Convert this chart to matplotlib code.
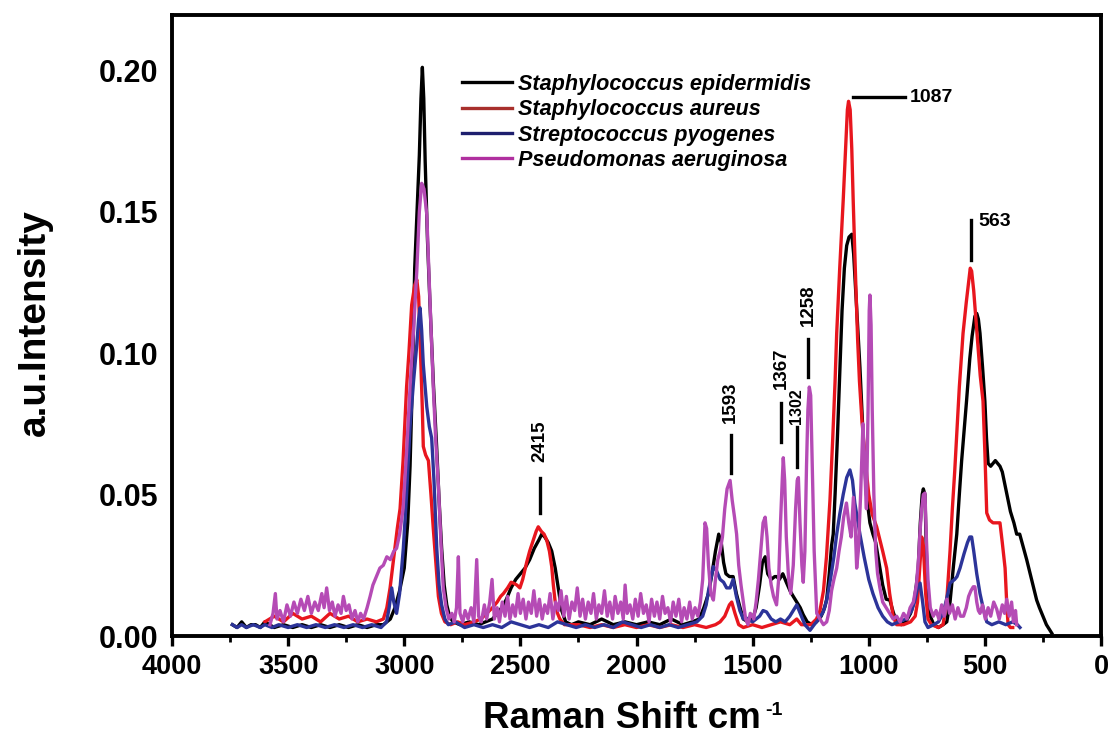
import matplotlib
matplotlib.use("Agg")
import matplotlib.pyplot as plt
from matplotlib.ticker import MultipleLocator

plt.rcParams['font.family'] = ['Liberation Sans', 'DejaVu Sans']

# ---------------- data ----------------
epi_x = [3740, 3720, 3700, 3680, 3660, 3640, 3620, 3600, 3560, 3520, 3480, 3440, 3400, 3360, 3320, 3280,
         3240, 3200, 3160, 3120, 3090, 3060, 3040, 3020, 3000, 2985, 2975, 2965, 2955, 2945, 2935, 2928,
         2922, 2916, 2910, 2900, 2889, 2875, 2860, 2850, 2839, 2828, 2817, 2805, 2790, 2760, 2720, 2680,
         2650, 2620, 2600, 2580, 2560, 2540, 2520, 2500, 2480, 2460, 2440, 2420, 2408, 2395, 2380, 2365,
         2350, 2337, 2322, 2305, 2280, 2250, 2200, 2150, 2100, 2050, 2000, 1950, 1900, 1850, 1800, 1760,
         1730, 1710, 1690, 1675, 1660, 1646, 1635, 1625, 1615, 1600, 1584, 1570, 1554, 1540, 1520, 1500,
         1485, 1470, 1458, 1446, 1435, 1420, 1405, 1396, 1385, 1370, 1355, 1339, 1325, 1310, 1295, 1282,
         1265, 1245, 1225, 1205, 1190, 1181, 1170, 1160, 1153, 1145, 1135, 1124, 1115, 1105, 1095, 1085,
         1073, 1065, 1055, 1047, 1038, 1025, 1010, 995, 982, 970, 960, 952, 940, 925, 909, 895,
         880, 860, 840, 820, 805, 795, 787, 778, 770, 765, 758, 752, 745, 735, 720, 700,
         680, 664, 650, 635, 621, 610, 600, 590, 579, 565, 555, 543, 535, 528, 521, 510,
         500, 493, 486, 475, 465, 455, 445, 435, 425, 415, 400, 390, 375, 363, 350, 340,
         330, 320, 305, 290, 277, 265, 250, 235, 220, 212]
epi_y = [.004, .003, .005, .003, .004, .004, .003, .005, .003, .004, .003, .004, .003, .004, .003, .004,
         .003, .004, .003, .004, .004, .006, .010, .016, .024, .040, .060, .090, .130, .150, .170, .190,
         .201, .190, .168, .140, .117, .090, .066, .048, .031, .018, .011, .007, .005, .004, .005, .004,
         .005, .006, .008, .010, .013, .017, .020, .022, .024, .027, .031, .034, .036, .035, .033, .030,
         .024, .017, .009, .005, .004, .005, .004, .006, .004, .005, .004, .005, .004, .006, .004, .005,
         .006, .010, .015, .022, .030, .036, .033, .026, .022, .021, .021, .015, .010, .006, .005, .006,
         .010, .018, .026, .028, .022, .020, .021, .021, .020, .022, .019, .016, .014, .012, .010, .0075,
         .005, .004, .005, .007, .010, .013, .022, .032, .036, .050, .070, .095, .115, .130, .138, .141,
         .142, .135, .120, .108, .095, .072, .050, .040, .036, .033, .028, .024, .018, .013, .0127, .0085,
         .005, .004, .005, .008, .012, .018, .024, .040, .050, .052, .050, .030, .013, .007, .004, .003,
         .004, .005, .012, .025, .036, .050, .062, .072, .083, .098, .106, .113, .114, .112, .107, .095,
         .083, .070, .061, .060, .061, .062, .061, .060, .058, .054, .048, .044, .040, .036, .036, .033,
         .030, .027, .022, .017, .0127, .010, .007, .004, .002, .001]

aur_x = [3600, 3560, 3520, 3480, 3440, 3400, 3360, 3320, 3280, 3240, 3200, 3160, 3120, 3090, 3075, 3061,
         3045, 3030, 3018, 3005, 2990, 2980, 2968, 2955, 2946, 2938, 2930, 2922, 2918, 2908, 2896, 2885,
         2875, 2863, 2853, 2840, 2825, 2800, 2770, 2740, 2700, 2670, 2645, 2620, 2600, 2585, 2573, 2555,
         2540, 2530, 2515, 2502, 2490, 2473, 2460, 2444, 2432, 2423, 2410, 2398, 2387, 2375, 2365, 2358,
         2351, 2340, 2330, 2310, 2250, 2200, 2150, 2100, 2050, 2000, 1950, 1900, 1850, 1800, 1750, 1700,
         1660, 1640, 1620, 1600, 1590, 1576, 1560, 1540, 1500, 1460, 1420, 1380, 1340, 1310, 1290, 1250,
         1225, 1210, 1195, 1182, 1167, 1155, 1145, 1138, 1125, 1110, 1100, 1092, 1087, 1080, 1073, 1067,
         1058, 1048, 1040, 1030, 1015, 1000, 985, 966, 955, 940, 923, 910, 895, 880, 850, 820,
         800, 790, 780, 772, 765, 755, 745, 730, 700, 680, 664, 650, 640, 630, 621, 610,
         594, 580, 570, 563, 557, 548, 535, 520, 508, 500, 492, 480, 465, 450, 435, 425,
         413, 405, 400, 390, 380]
aur_y = [.005, .007, .005, .008, .006, .007, .005, .008, .006, .007, .005, .006, .005, .006, .010, .017,
         .028, .038, .045, .062, .088, .100, .117, .124, .126, .120, .100, .080, .067, .064, .062, .050,
         .038, .025, .014, .008, .005, .004, .005, .004, .005, .006, .008, .010, .012, .014, .015, .017,
         .019, .0187, .018, .017, .020, .026, .030, .034, .037, .0386, .037, .036, .034, .030, .0245, .018,
         .0127, .008, .006, .004, .004, .003, .004, .003, .004, .003, .004, .003, .004, .003, .004, .003,
         .004, .005, .007, .011, .012, .008, .004, .003, .004, .003, .004, .005, .004, .006, .004, .004,
         .006, .009, .016, .028, .048, .070, .090, .107, .130, .154, .172, .186, .189, .186, .172, .154,
         .130, .105, .090, .077, .062, .050, .043, .0386, .035, .030, .024, .015, .007, .004, .004, .005,
         .007, .012, .025, .035, .032, .015, .006, .004, .003, .004, .0127, .030, .045, .058, .0717, .088,
         .107, .118, .125, .130, .129, .122, .108, .092, .083, .065, .0435, .041, .040, .040, .040, .033,
         .024, .010, .004, .003, .003]

pyo_x = [3740, 3720, 3700, 3680, 3650, 3620, 3600, 3570, 3540, 3500, 3460, 3420, 3380, 3340, 3300, 3260,
         3220, 3180, 3140, 3100, 3076, 3065, 3054, 3045, 3033, 3020, 3004, 2990, 2975, 2960, 2946, 2938,
         2932, 2925, 2918, 2910, 2903, 2892, 2882, 2872, 2860, 2850, 2839, 2825, 2810, 2780, 2740, 2700,
         2660, 2620, 2580, 2540, 2500, 2460, 2420, 2380, 2340, 2300, 2260, 2220, 2180, 2140, 2100, 2060,
         2020, 1980, 1940, 1900, 1860, 1820, 1780, 1740, 1715, 1700, 1690, 1675, 1669, 1655, 1640, 1625,
         1612, 1597, 1584, 1570, 1555, 1540, 1526, 1500, 1470, 1455, 1440, 1420, 1400, 1380, 1360, 1340,
         1325, 1310, 1295, 1275, 1253, 1235, 1215, 1196, 1180, 1165, 1150, 1138, 1125, 1110, 1095, 1081,
         1070, 1060, 1050, 1038, 1020, 1000, 982, 960, 940, 920, 900, 870, 840, 815, 800, 790,
         779, 768, 758, 745, 720, 700, 680, 665, 650, 630, 620, 607, 590, 575, 565, 557,
         548, 535, 521, 505, 492, 470, 440, 410, 380, 360, 349]
pyo_y = [.004, .003, .004, .003, .004, .003, .004, .003, .004, .003, .004, .003, .004, .003, .004, .003,
         .004, .003, .004, .003, .005, .010, .017, .012, .008, .015, .031, .050, .074, .090, .103, .112,
         .116, .108, .096, .088, .081, .074, .070, .055, .031, .018, .011, .006, .004, .005, .003, .004,
         .003, .004, .003, .005, .004, .003, .004, .003, .005, .004, .003, .004, .003, .004, .003, .005,
         .004, .003, .004, .003, .004, .003, .004, .005, .007, .011, .016, .022, .0245, .023, .020, .019,
         .017, .017, .020, .014, .009, .006, .0063, .005, .007, .009, .0085, .006, .005, .006, .005, .007,
         .009, .011, .008, .004, .002, .004, .006, .0085, .013, .020, .028, .036, .043, .050, .056, .0587,
         .055, .047, .042, .036, .028, .020, .015, .010, .007, .005, .004, .005, .006, .009, .013, .017,
         .0187, .012, .005, .003, .004, .005, .008, .013, .0187, .020, .021, .024, .029, .033, .035, .035,
         .030, .022, .015, .009, .005, .004, .005, .004, .005, .004, .003]

aer_x = [3578, 3565, 3555, 3548, 3535, 3520, 3505, 3490, 3475, 3460, 3445, 3430, 3415, 3400, 3385, 3370,
         3355, 3345, 3334, 3322, 3310, 3298, 3285, 3272, 3262, 3250, 3238, 3225, 3212, 3200, 3188, 3175,
         3160, 3147, 3135, 3120, 3105, 3090, 3075, 3060, 3045, 3033, 3020, 3005, 2990, 2975, 2960, 2946,
         2935, 2925, 2915, 2903, 2890, 2875, 2865, 2853, 2842, 2832, 2820, 2808, 2795, 2785, 2775, 2767,
         2760, 2748, 2738, 2725, 2712, 2700, 2688, 2680, 2668, 2655, 2645, 2632, 2622, 2612, 2600, 2590,
         2578, 2566, 2555, 2545, 2533, 2522, 2510, 2500, 2488, 2476, 2465, 2453, 2442, 2430, 2418, 2406,
         2395, 2383, 2372, 2360, 2348, 2336, 2325, 2313, 2302, 2290, 2278, 2266, 2255, 2243, 2232, 2220,
         2208, 2196, 2185, 2173, 2162, 2150, 2138, 2126, 2115, 2103, 2092, 2080, 2068, 2057, 2049, 2040,
         2028, 2016, 2005, 1993, 1982, 1970, 1958, 1946, 1935, 1923, 1912, 1900, 1888, 1877, 1865, 1853,
         1842, 1830, 1818, 1806, 1795, 1783, 1771, 1760, 1748, 1736, 1725, 1715, 1705, 1698, 1690, 1680,
         1669, 1660, 1650, 1640, 1630, 1620, 1610, 1597, 1588, 1578, 1569, 1560, 1550, 1541, 1530, 1520,
         1510, 1495, 1485, 1475, 1465, 1455, 1446, 1438, 1430, 1420, 1410, 1397, 1388, 1380, 1372, 1368,
         1362, 1355, 1345, 1336, 1325, 1315, 1308, 1303, 1296, 1288, 1282, 1275, 1268, 1262, 1256, 1250,
         1243, 1235, 1224, 1210, 1195, 1181, 1170, 1160, 1150, 1138, 1128, 1118, 1108, 1096, 1086, 1076,
         1066, 1058, 1052, 1045, 1035, 1025, 1018, 1010, 1003, 998, 995, 990, 985, 978, 970, 962,
         952, 940, 925, 910, 895, 880, 865, 850, 835, 822, 808, 795, 785, 780, 772, 765,
         758, 752, 745, 735, 722, 710, 698, 686, 675, 664, 652, 640, 628, 616, 605, 592,
         580, 570, 560, 550, 543, 535, 528, 521, 510, 498, 486, 475, 462, 449, 438, 425,
         415, 406, 395, 385, 377, 368, 363]
aer_y = [.004, .008, .015, .006, .009, .005, .011, .007, .012, .008, .013, .009, .014, .008, .012, .009,
         .015, .010, .017, .009, .012, .007, .011, .008, .014, .009, .011, .006, .009, .005, .008, .006,
         .010, .014, .018, .021, .024, .025, .028, .027, .030, .031, .036, .045, .065, .088, .108, .129,
         .150, .160, .158, .149, .120, .088, .070, .053, .033, .017, .010, .006, .008, .005, .010, .028,
         .008, .005, .009, .006, .010, .005, .027, .007, .005, .011, .006, .012, .020, .006, .010, .005,
         .012, .007, .014, .006, .011, .007, .015, .008, .013, .006, .012, .008, .016, .007, .013, .006,
         .011, .008, .015, .006, .012, .009, .016, .007, .014, .006, .012, .009, .017, .007, .013, .006,
         .012, .008, .015, .006, .011, .008, .016, .007, .012, .006, .014, .008, .012, .006, .018, .008,
         .011, .006, .013, .007, .015, .008, .011, .005, .013, .007, .012, .006, .014, .008, .010, .005,
         .012, .007, .013, .005, .010, .006, .012, .006, .010, .007, .012, .020, .040, .038, .025, .015,
         .0127, .020, .027, .030, .035, .045, .052, .055, .048, .042, .036, .025, .018, .0127, .006, .004,
         .008, .006, .012, .020, .030, .040, .042, .035, .024, .018, .014, .011, .020, .040, .056, .063,
         .055, .035, .020, .015, .025, .045, .055, .056, .040, .025, .019, .030, .060, .080, .088, .085,
         .060, .030, .008, .006, .004, .005, .009, .016, .020, .024, .030, .035, .042, .047, .040, .035,
         .049, .038, .024, .030, .050, .075, .060, .045, .080, .115, .1205, .110, .080, .050, .030, .022,
         .017, .012, .010, .008, .006, .007, .005, .008, .006, .010, .012, .018, .028, .036, .045, .050,
         .0505, .035, .020, .010, .007, .009, .006, .011, .007, .013, .008, .011, .006, .010, .007, .007,
         .010, .014, .016, .0174, .0174, .012, .009, .008, .011, .006, .010, .007, .012, .0095, .006, .011,
         .008, .013, .007, .012, .005, .009, .004]

series_labels = ["Staphylococcus epidermidis", "Staphylococcus aureus",
                 "Streptococcus pyogenes", "Pseudomonas aeruginosa"]
series_colors = ["#000000", "#e8161e", "#2c3499", "#b54bb5"]
legend_colors = ["#000000", "#a8302c", "#1e1f6e", "#b0309f"]

x_ticks = [4000, 3500, 3000, 2500, 2000, 1500, 1000, 500, 0]
y_ticks = [0.00, 0.05, 0.10, 0.15, 0.20]

# peak annotations: (label, x, line y0, line y1, text y, fontsize)
vert_annots = [("2415", 2415, 0.0435, 0.0560, 0.069, 13.5),
               ("1593", 1595, 0.0576, 0.0710, 0.0827, 13.5),
               ("1367", 1378, 0.0686, 0.0823, 0.0945, 13.5),
               ("1302", 1310, 0.0598, 0.0740, 0.0813, 11.5),
               ("1258", 1260, 0.0916, 0.1050, 0.1170, 13.5)]

# ---------------- figure ----------------
fig = plt.figure(figsize=(11.11, 7.48), dpi=100)
ax = fig.add_axes([172 / 1111, 112 / 748, 929 / 1111, 621 / 748])

lw = 2.4
for xs, ys, c, lab in [(epi_x, epi_y, series_colors[0], series_labels[0]),
                       (aur_x, aur_y, series_colors[1], series_labels[1]),
                       (pyo_x, pyo_y, series_colors[2], series_labels[2]),
                       (aer_x, aer_y, series_colors[3], series_labels[3])]:
    ax.plot(xs, ys, color=c, lw=lw, label=lab)

ax.set_xlim(4000, 0)
ax.set_ylim(0, 0.2195)
ax.set_xticks(x_ticks)
ax.set_xticklabels([str(v) for v in x_ticks])
ax.xaxis.set_minor_locator(MultipleLocator(250))
ax.set_yticks(y_ticks)
ax.set_yticklabels([f"{v:.2f}" for v in y_ticks])

for s in ax.spines.values():
    s.set_linewidth(2.8)
ax.tick_params(axis='x', which='major', direction='out', length=7, width=2.4, pad=6,
               labelsize=19.5, top=False)
ax.tick_params(axis='x', which='minor', direction='out', length=4, width=2.0, top=False)
ax.tick_params(axis='y', which='both', length=0, pad=10, labelsize=22)
for lbl in ax.get_xticklabels() + ax.get_yticklabels():
    lbl.set_fontweight('bold')

xl = ax.set_xlabel("Raman Shift cm", fontsize=26.5, fontweight='bold', labelpad=15)
ax.xaxis.set_label_coords(0.484, -0.105)
xl.set_va('top')
ax.set_ylabel("a.u.Intensity", fontsize=28, fontweight='bold')
ax.yaxis.set_label_coords(-0.128, 0.505)

# annotations
for lab, xv, y0, y1, ty, fs in vert_annots:
    ax.plot([xv, xv], [y0, y1], color='black', lw=2.4)
    ax.text(xv, ty, lab, rotation=90, ha='center', va='center', fontsize=fs, fontweight='bold')

ax.plot([1068, 844], [0.1905, 0.1905], color='black', lw=2.4)
ax.text(822, 0.1905, "1087", ha='left', va='center', fontsize=14, fontweight='bold')
ax.plot([560, 560], [0.133, 0.147], color='black', lw=2.4)
ax.text(530, 0.1465, "563", ha='left', va='center', fontsize=14, fontweight='bold')

leg = ax.legend(loc='upper left', bbox_to_anchor=((462 - 172) / 929, (636 - 74) / 621),
                frameon=False, handlelength=2.3, handletextpad=0.3,
                labelspacing=0.2, borderpad=0, borderaxespad=0,
                prop={'family': 'Liberation Sans', 'style': 'italic', 'weight': 'bold', 'size': 15.6})
for h, c in zip(leg.get_lines(), legend_colors):
    h.set_color(c)
    h.set_linewidth(2.4)

# superscript "-1" after the x label
fig.canvas.draw()
bb = xl.get_window_extent()
fig.text((bb.x1 + 5) / 1111, (bb.y1 - 1) / 748, "-1", fontsize=14, fontweight='bold',
         ha='left', va='top')

fig.savefig("out.png", dpi=100)
